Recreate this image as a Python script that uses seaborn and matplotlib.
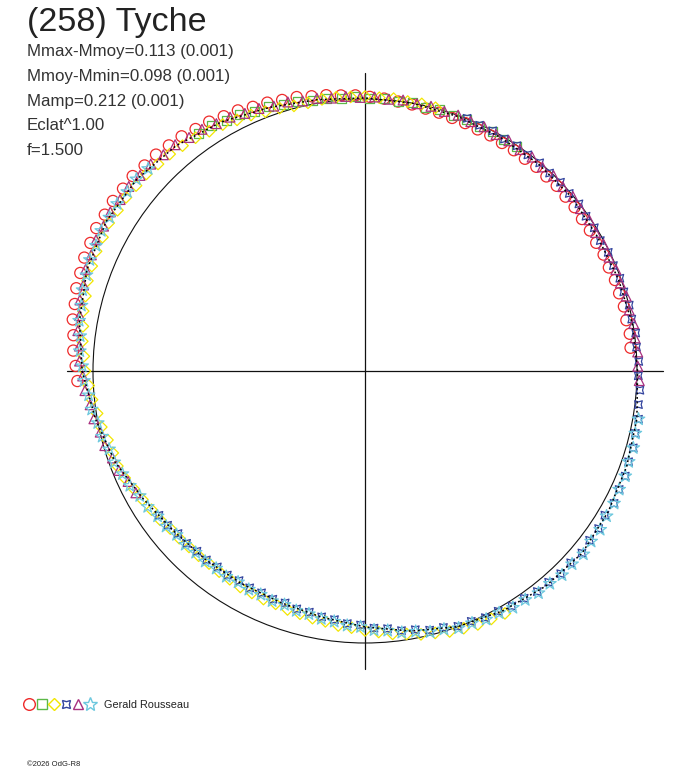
import numpy as np
import matplotlib
matplotlib.use("Agg")
import matplotlib.pyplot as plt
from matplotlib.lines import Line2D
from matplotlib.patches import Circle
import seaborn as sns

# ---------------- data ----------------
title = "(258) Tyche"
info_lines = ["Mmax-Mmoy=0.113 (0.001)", "Mmoy-Mmin=0.098 (0.001)",
              "Mamp=0.212 (0.001)", "Eclat^1.00", "f=1.500"]
observer = "Gerald Rousseau"
copyright_txt = "\u00a92026 OdG-R8"

# fitted curve: polar angle (deg) and relative flux (reference circle = 1)
fit_angle = [0, 10, 20, 30, 40, 50, 60, 70, 80, 90, 100, 110, 120, 130, 140, 150,
             160, 170, 180, 190, 200, 210, 220, 230, 240, 250, 260, 270, 280, 290,
             300, 310, 320, 330, 340, 350, 360]
fit_flux = [1.002, 0.998, 0.991, 0.987, 0.993, 0.993, 0.993, 0.996, 1.000, 1.004,
            1.013, 1.031, 1.057, 1.081, 1.096, 1.099, 1.088, 1.066, 1.040, 1.007,
            0.978, 0.941, 0.917, 0.908, 0.904, 0.906, 0.919, 0.941, 0.971, 1.000,
            1.017, 1.033, 1.042, 1.033, 1.024, 1.015, 1.002]

# sessions: first angle (deg), angular step (deg), relative flux of each point
red_start, red_step = 5, 3
red_flux = [0.980, 0.983, 0.979, 0.981, 0.977, 0.978, 0.974, 0.976, 0.972, 0.975,
            0.974, 0.978, 0.977, 0.980, 0.978, 0.980, 0.977, 0.979, 0.978, 0.981,
            0.980, 0.983, 0.984, 0.988, 0.990, 0.995, 0.998, 1.004, 1.008, 1.014,
            1.017, 1.024, 1.029, 1.038, 1.042, 1.050, 1.055, 1.066, 1.071, 1.081,
            1.086, 1.095, 1.099, 1.106, 1.108, 1.115, 1.114, 1.118, 1.116, 1.119,
            1.114, 1.113, 1.107, 1.104, 1.095, 1.091, 1.080, 1.075, 1.064, 1.058]

green_start, green_step = 56, 3
green_flux = [0.995, 0.991, 0.996, 0.993, 0.998, 0.994, 1.000, 0.996, 1.002, 0.998,
              1.004, 1.001, 1.008, 1.005, 1.013, 1.012, 1.022, 1.023, 1.033, 1.036,
              1.049, 1.051, 1.064, 1.066]

yellow_start, yellow_step = 75, 3
yellow_flux = [1.002, 1.004, 1.003, 1.007, 1.006, 1.009, 1.009, 1.012, 1.011, 1.008,
               1.009, 1.016, 1.021, 1.030, 1.036, 1.046, 1.051, 1.060, 1.066, 1.073,
               1.076, 1.082, 1.083, 1.086, 1.085, 1.088, 1.083, 1.082, 1.076, 1.073,
               1.064, 1.059, 1.050, 1.045, 1.035, 1.029, 1.017, 1.009, 0.997, 0.991,
               0.980, 0.975, 0.975, 0.967, 0.954, 0.945, 0.936, 0.931, 0.921, 0.919,
               0.915, 0.914, 0.911, 0.912, 0.913, 0.917, 0.916, 0.918, 0.917, 0.922,
               0.924, 0.929, 0.932, 0.941, 0.945, 0.954, 0.961, 0.972, 0.979, 0.990,
               0.997, 1.007, 1.013, 1.020, 1.023, 1.029]

blue_start, blue_step = -145, 3
blue_flux = [0.925, 0.921, 0.911, 0.912, 0.906, 0.907, 0.902, 0.905, 0.899, 0.903,
             0.900, 0.905, 0.902, 0.910, 0.910, 0.918, 0.921, 0.931, 0.934, 0.946,
             0.951, 0.964, 0.969, 0.982, 0.986, 0.999, 1.000, 1.009, 1.010, 1.019,
             1.020, 1.029, 1.029, 1.036, 1.034, 1.041, 1.034, 1.036, 1.029, 1.037,
             1.031, 1.032, 1.025, 1.026, 1.020, 1.021, 1.013, 1.013, 1.005, 1.007,
             1.002, 1.005, 0.999, 1.001, 0.995, 0.997, 0.992, 0.995, 0.989, 0.994,
             0.992, 0.998, 0.995, 0.999, 0.995, 0.999, 0.995, 0.999, 0.995, 1.000,
             0.997, 1.002]

purple_start, purple_step = -2, 3
purple_flux = [1.009, 1.003, 1.005, 1.000, 1.003, 0.997, 0.999, 0.993, 0.995, 0.990,
               0.993, 0.989, 0.994, 0.992, 0.998, 0.994, 0.998, 0.994, 0.998, 0.994,
               0.998, 0.994, 0.999, 0.996, 1.001, 0.998, 1.003, 1.001, 1.006, 1.003,
               1.008, 1.006, 1.012, 1.011, 1.018, 1.019, 1.029, 1.030, 1.041, 1.045,
               1.057, 1.061, 1.072, 1.075, 1.086, 1.087, 1.095, 1.096, 1.102, 1.099,
               1.104, 1.099, 1.100, 1.093, 1.093, 1.082, 1.080, 1.069, 1.066, 1.054,
               1.050, 1.038, 1.032, 1.018, 1.012, 0.999, 0.995, 0.982, 0.976, 0.961,
               0.954]

cyan_start, cyan_step = 137, 3
cyan_flux = [1.090, 1.097, 1.094, 1.099, 1.096, 1.098, 1.091, 1.091, 1.083, 1.080,
             1.070, 1.067, 1.055, 1.051, 1.040, 1.034, 1.020, 1.015, 1.001, 0.996,
             0.984, 0.981, 0.969, 0.962, 0.947, 0.942, 0.931, 0.928, 0.918, 0.919,
             0.913, 0.914, 0.909, 0.912, 0.906, 0.910, 0.907, 0.912, 0.909, 0.917,
             0.917, 0.925, 0.928, 0.938, 0.941, 0.953, 0.958, 0.971, 0.976, 0.989,
             0.993, 1.006, 1.007, 1.016, 1.017, 1.026, 1.027, 1.036, 1.036, 1.043,
             1.041, 1.048, 1.041, 1.043, 1.036, 1.037, 1.031, 1.032, 1.025, 1.026,
             1.020, 1.021]

# ---------------- style ----------------
sessions = [
    (red_start, red_step, red_flux, "o", 64, "#ee2a2a"),
    (green_start, green_step, green_flux, "s", 42, "#5cb848"),
    (yellow_start, yellow_step, yellow_flux, "D", 34, "#f2e600"),
    (blue_start, blue_step, blue_flux, (4, 1, 45), 60, "#33449e"),
    (purple_start, purple_step, purple_flux, "^", 50, "#a8307f"),
    (cyan_start, cyan_step, cyan_flux, "*", 90, "#6cc8de"),
]

sns.set_theme(style="white")
plt.rcParams["font.family"] = ["Liberation Sans", "DejaVu Sans"]

W, H = 688, 768
fig = plt.figure(figsize=(W / 100, H / 100), dpi=100)
fig.patch.set_facecolor("white")
ax = fig.add_axes([0, 0, 1, 1])
ax.set_axis_off()

cx, cy, scale = 365.0, 371.0, 272.0  # pixel centre and pixels per unit
ax.set_xlim(-cx / scale, (W - cx) / scale)
ax.set_ylim((cy - H) / scale, cy / scale)

# cross and reference circle
axis_len = 1.096
ax.plot([-axis_len, axis_len], [0, 0], color="#111111", lw=0.9, zorder=1)
ax.plot([0, 0], [-axis_len, axis_len], color="#111111", lw=0.9, zorder=1)
ax.add_patch(Circle((0, 0), 1.0, fill=False, ec="#111111", lw=0.8, zorder=1))

# sessions
for start, step, flux, mk, s, col in sessions:
    flux = np.asarray(flux)
    ang = np.deg2rad(start + step * np.arange(len(flux)))
    sns.scatterplot(x=flux * np.cos(ang), y=flux * np.sin(ang), marker=mk, s=s,
                    color=col, facecolor="none", edgecolor=col, linewidth=0.9,
                    ax=ax, zorder=3, legend=False)

# fitted curve
fa = np.deg2rad(np.asarray(fit_angle, dtype=float))
ff = np.asarray(fit_flux)
ax.plot(ff * np.cos(fa), ff * np.sin(fa), color="black", lw=1.1,
        ls=(0, (1.2, 1.8)), zorder=5)

# texts
def fy(px):
    return 1 - px / H

fig.text(27 / W, fy(31), title, fontsize=24.5, color="#222222", va="baseline")
for i, line in enumerate(info_lines):
    fig.text(27 / W, fy(56 + 24.8 * i), line, fontsize=12.2, color="#333333",
             va="baseline")

# legend row
leg_x = [29, 42, 54, 66, 78, 90]
for (start, step, flux, mk, s, col), lx in zip(sessions, leg_x):
    fig.add_artist(Line2D([lx / W], [fy(703.5)], marker=mk, markersize=np.sqrt(s) * 1.05,
                          mfc="none", mec=col, mew=1.0, ls="none",
                          transform=fig.transFigure))
fig.text(104 / W, fy(708.5), observer, fontsize=7.8, color="#222222", va="baseline")
fig.text(27 / W, fy(766), copyright_txt, fontsize=5.5, color="#222222", va="baseline")

fig.savefig("out.png", dpi=100, facecolor="white")
